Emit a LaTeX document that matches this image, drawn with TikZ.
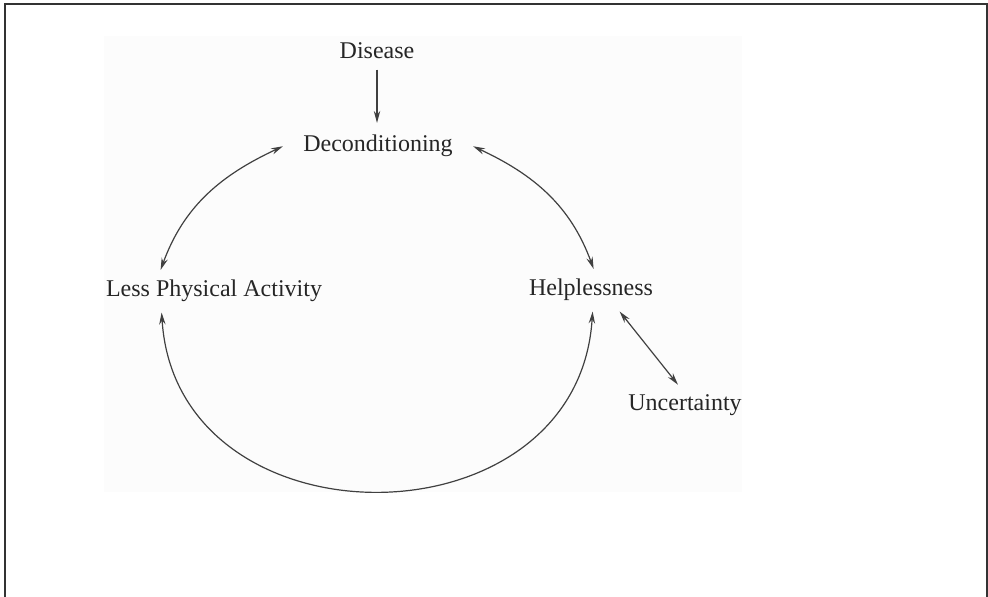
\documentclass[tikz,border=0pt]{standalone}
\usepackage{fontspec}
\setmainfont{Liberation Serif}
\usetikzlibrary{arrows.meta, positioning}

\begin{document}
\begin{tikzpicture}[x=0.5pt, y=0.5pt, >={Stealth[length=6pt, width=3.2pt]},
    lbl/.style={font=\fontsize{12}{14}\selectfont, text=black!85, inner sep=5pt, anchor=base},
    link/.style={line width=0.6pt, draw=black!75}]

    % =================================================================
    % KHUNG VÀ NỀN
    % =================================================================
    \useasboundingbox (0,0) rectangle (988,597);
    \fill[black!1] (104,105) rectangle (742,561);
    \draw[line width=1pt, black!80] (4.5,0) -- (4.5,592.5) -- (987,592.5) -- (987,0);

    % =================================================================
    % CÁC NHÃN
    % =================================================================
    \node[lbl] (disease) at (377,538) {Disease};
    \node[lbl, inner xsep=10pt, inner ysep=6pt] (decon) at (378,445) {Deconditioning};
    \node[lbl] (less) at (214,300) {Less Physical Activity};
    \node[lbl] (help) at (591,301) {Helplessness};
    \node[lbl] (uncert) at (685,186) {Uncertainty};

    % =================================================================
    % CÁC MŨI TÊN
    % =================================================================
    \draw[link, ->] (disease.south) -- (disease.south |- decon.north);

    % Vòng tròn lớn
    \draw[link, <->] (decon.west) to[out=205, in=70] ([xshift=32.5pt]less.north west);
    \draw[link, <->] (decon.east) to[out=-25, in=110] ([xshift=37.5pt]help.north west);
    \draw[link, <->] ([xshift=33pt]less.south west)
        .. controls +(15,-238) and +(-15,-238) .. ([xshift=37pt]help.south west);

    % Helplessness -- Uncertainty
    \draw[link, <->] ([xshift=50.5pt]help.south west) -- ([xshift=30pt]uncert.north west);

\end{tikzpicture}
\end{document}
